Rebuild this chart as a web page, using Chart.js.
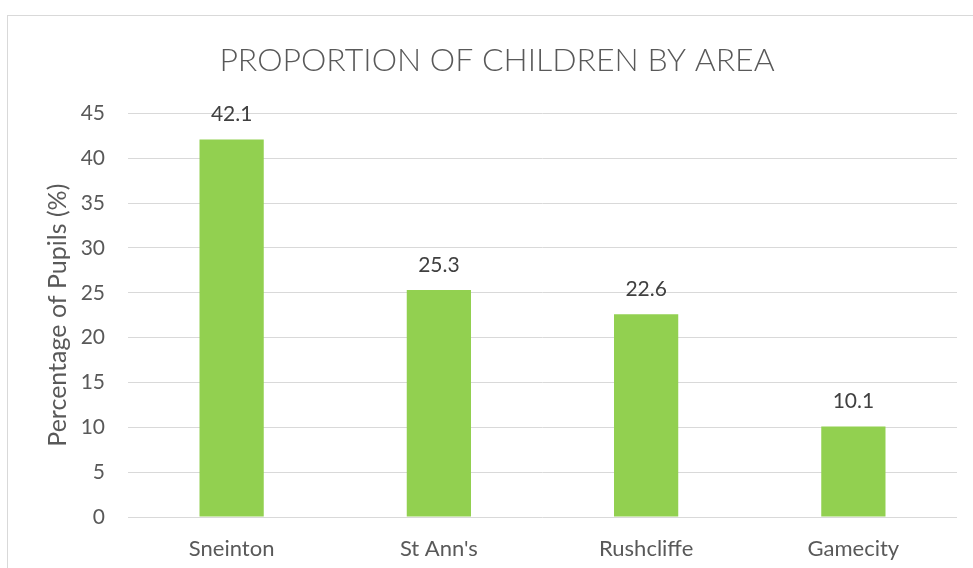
<!DOCTYPE html>
<html>
<head>
<meta charset="utf-8">
<title>Proportion of Children by Area</title>
<script src="https://cdn.jsdelivr.net/npm/chart.js@4/dist/chart.umd.min.js"></script>
<style>
  html, body { margin: 0; padding: 0; background: #fff; overflow: hidden; }
  #wrap { position: relative; width: 973px; height: 568px; }
  #frame {
    position: absolute; left: 7px; top: 15px;
    width: 1000px; height: 600px;
    border: 1px solid #d9d9d9;
  }
  #areaChart { position: absolute; left: 0; top: 0; }
</style>
</head>
<body>
<div id="wrap">
  <div id="frame"></div>
  <canvas id="areaChart" width="973" height="568"></canvas>
</div>
<script>
// ── Data ────────────────────────────────────────────────────
const areas      = ["Sneinton", "St Ann's", "Rushcliffe", "Gamecity"];
const pupilShare = [42.1, 25.3, 22.6, 10.1];
const yTicks     = [0, 5, 10, 15, 20, 25, 30, 35, 40, 45];

const STYLE = {
  text:  "#595959",
  label: "#404040",
  grid:  "#d9d9d9",
  bar:   "#92d050",
  font:  "Lato, Carlito, 'Open Sans', sans-serif"
};

// value labels above each bar
const barValueLabels = {
  id: "barValueLabels",
  afterDatasetsDraw(chart) {
    const { ctx } = chart;
    const meta = chart.getDatasetMeta(0);
    ctx.save();
    ctx.font = "21px " + STYLE.font;
    ctx.fillStyle = STYLE.label;
    ctx.textAlign = "center";
    ctx.textBaseline = "middle";
    meta.data.forEach((bar, i) => {
      ctx.fillText(pupilShare[i].toFixed(1), bar.x, bar.y - 25);
    });
    ctx.restore();
  }
};

// title is centred on the outer frame, not on the plot width
const titleShift = {
  id: "titleShift",
  afterLayout(chart) {
    if (chart.titleBlock) chart.titleBlock.left = 37;
  }
};

new Chart(document.getElementById("areaChart"), {
  type: "bar",
  data: {
    labels: areas,
    datasets: [{
      label: "Percentage of Pupils (%)",
      data: pupilShare,
      backgroundColor: STYLE.bar,
      categoryPercentage: 1,
      barPercentage: 0.31
    }]
  },
  options: {
    responsive: false,
    animation: false,
    layout: { padding: { left: 0, right: 16, top: 0, bottom: 0 } },
    plugins: {
      legend: { display: false },
      tooltip: { enabled: false },
      title: {
        display: true,
        text: "PROPORTION OF CHILDREN BY AREA",
        color: STYLE.text,
        font: { family: STYLE.font, size: 32, weight: "300" },
        padding: { top: 41, bottom: 34 }
      }
    },
    scales: {
      x: {
        grid: { display: false, drawTicks: false },
        border: { display: false },
        ticks: { color: STYLE.text, padding: 19, font: { family: STYLE.font, size: 22 } },
        afterFit: s => { s.height = 51; }
      },
      y: {
        min: 0, max: 45,
        afterBuildTicks: s => { s.ticks = yTicks.map(v => ({ value: v })); },
        grid: { color: STYLE.grid, lineWidth: 1, drawTicks: false },
        border: { display: false },
        ticks: { color: STYLE.text, padding: 23, font: { family: STYLE.font, size: 21 } },
        title: {
          display: true,
          text: "Percentage of Pupils (%)",
          color: STYLE.text,
          font: { family: STYLE.font, size: 25 },
          padding: { top: 43, bottom: 0 }
        },
        afterFit: s => { s.width = 128; }
      }
    }
  },
  plugins: [barValueLabels, titleShift]
});
</script>
</body>
</html>
